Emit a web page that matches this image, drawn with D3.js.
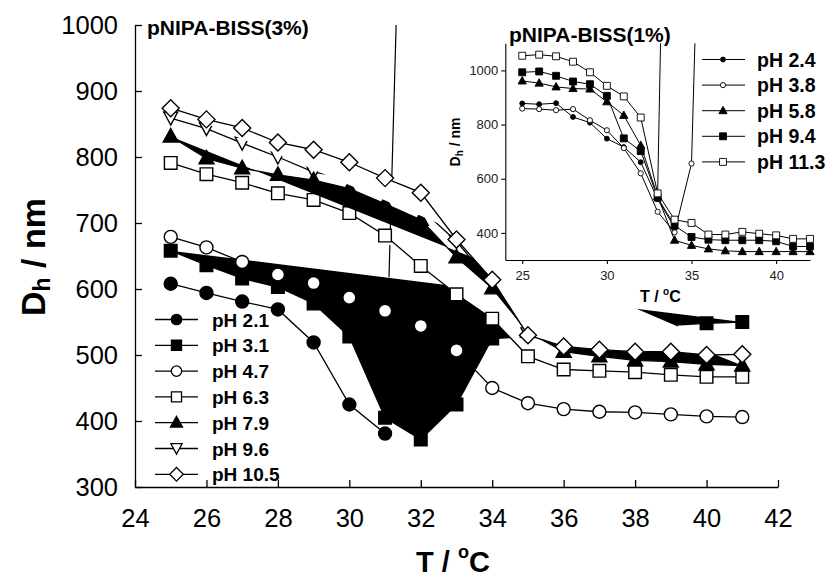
<!DOCTYPE html>
<html><head><meta charset="utf-8">
<script src="https://cdn.jsdelivr.net/npm/d3@7"></script>
<style>html,body{margin:0;padding:0;background:#fff;} svg{display:block;font-family:Arial,"Liberation Sans",sans-serif;}</style>
</head><body><svg id="c" width="832" height="579"></svg>
<script>
// ---------- main chart data: pNIPA-BISS(3%) ----------
const tempMain = [25,26,27,28,29,30,31,32,33,34,35,36,37,38,39,40,41];
const ph21  = [608,594,581,569,519,425,381];
const ph31  = [658,636,616,603,578,528,405,372,425,525,528,533,538,542,545,548,550];
const ph47  = [679,663,641,622,609,587,567,544,507,450,427,418,414,413,410,407,406];
const ph63  = [791,774,761,745,735,715,681,635,592,555,498,478,476,474,470,467,467];
const ph79  = [831,798,783,773,765,752,729,705,648,601,535,505,498,492,490,486,484];
const ph96  = [859,843,821,800,777,768,745,722,672,608,532,520,515,513,512,508];
const ph105 = [874,857,844,822,811,792,768,746,675,614,530,513,508,505,505,500,501];
const mainLabels = ["pH 2.1","pH 3.1","pH 4.7","pH 6.3","pH 7.9","pH 9.6","pH 10.5"];
const mainTicksX = [24,26,28,30,32,34,36,38,40,42];
const mainTicksY = [300,400,500,600,700,800,900,1000];
// stray line in the scanned figure
const strayMain = [[31.11,618],[31.31,1000]];

// ---------- inset data: pNIPA-BISS(1%) ----------
const tempInset = [25,26,27,28,29,30,31,32,33,34,35,36,37,38,39,40,41,42];
const ph24  = [878,875,879,828,807,748,717,661,525,420];
const ph38  = [859,857,853,857,816,779,713,620,478,402,656];
const ph58  = [961,953,939,933,931,884,834,723,535,373,354,341,334,331,331,331,331,331];
const ph94  = [993,996,980,959,949,906,749,702,530,427,385,375,373,373,373,369,350,350];
const ph113 = [1054,1058,1052,1032,993,943,904,826,546,449,437,394,394,404,397,391,378,378];
const insetLabels = ["pH 2.4","pH 3.8","pH 5.8","pH 9.4","pH 11.3"];
const insetTicksX = [25,30,35,40];
const insetTicksY = [400,600,800,1000];
const strayInset = [[[33.0,549],[33.17,1100]],[[35.0,656],[35.2,1100]]];

const mainSeries = [
  {label:mainLabels[0], values:ph21,  shape:"circle",  filled:true,  area:null},
  {label:mainLabels[1], values:ph31,  shape:"square",  filled:true,  area:"#000"},
  {label:mainLabels[2], values:ph47,  shape:"circle",  filled:false, area:null},
  {label:mainLabels[3], values:ph63,  shape:"square",  filled:false, area:"#fff"},
  {label:mainLabels[4], values:ph79,  shape:"triUp",   filled:true,  area:"#000"},
  {label:mainLabels[5], values:ph96,  shape:"triDown", filled:false, area:"#fff"},
  {label:mainLabels[6], values:ph105, shape:"diamond", filled:false, area:"#fff"}
];
const drawOrder = [0,1,2,3,5,4,6];
const insetSeries = [
  {label:insetLabels[0], values:ph24,  shape:"circle", filled:true,  k:0.38},
  {label:insetLabels[1], values:ph38,  shape:"circle", filled:false, k:0.4},
  {label:insetLabels[2], values:ph58,  shape:"triUp",  filled:true,  k:0.55},
  {label:insetLabels[3], values:ph94,  shape:"square", filled:true,  k:0.55},
  {label:insetLabels[4], values:ph113, shape:"square", filled:false, k:0.55}
];

function markerPath(shape,k){
  switch(shape){
    case "circle": {const r=6.5*k; return `M${-r},0A${r},${r} 0 1,0 ${r},0A${r},${r} 0 1,0 ${-r},0Z`;}
    case "square": {const h=6.3*k; return `M${-h},${-h}H${h}V${h}H${-h}Z`;}
    case "triUp": return `M0,${-8*k}L${7.5*k},${5.5*k}L${-7.5*k},${5.5*k}Z`;
    case "triDown": return `M0,${7*k}L${7*k},${-6*k}L${-7*k},${-6*k}Z`;
    case "diamond": return `M0,${-8.5*k}L${8.5*k},0L0,${8.5*k}L${-8.5*k},0Z`;
  }
}
function marker(g,shape,cx,cy,k,filled,sw){
  g.append("path").attr("d",markerPath(shape,k)).attr("transform",`translate(${cx},${cy})`)
   .attr("fill",filled?"#000":"#fff").attr("stroke","#000").attr("stroke-width",sw);
}

const svg = d3.select("#c");

// ================= MAIN =================
const x = d3.scaleLinear().domain([24,42]).range([135,778]);
const y = d3.scaleLinear().domain([300,1000]).range([487,25]);
const line = d3.line().x(d=>x(d[0])).y(d=>y(d[1]));

svg.append("path").attr("d",line(strayMain)).attr("fill","none").attr("stroke","#000").attr("stroke-width",1.2);

const gm = svg.append("g");
drawOrder.map(i=>mainSeries[i]).forEach(s=>{
  const pts = tempMain.map((t,i)=>[t,s.values[i]]).filter(p=>p[1]!=null);
  if(s.area) gm.append("path").attr("d",line(pts)+"Z").attr("fill",s.area).attr("stroke","none");
  gm.append("path").attr("d",line(pts)).attr("fill","none").attr("stroke","#000").attr("stroke-width",1.3);
  pts.forEach(p=>marker(gm,s.shape,x(p[0]),y(p[1]),1,s.filled,1.4));
});

// axes
const ax = svg.append("g").attr("transform","translate(0,487)")
  .call(d3.axisBottom(x).tickValues(mainTicksX).tickSize(-7).tickSizeOuter(0).tickPadding(22).tickFormat(d3.format("d")));
const ay = svg.append("g").attr("transform","translate(135,0)")
  .call(d3.axisLeft(y).tickValues(mainTicksY).tickSize(-7).tickSizeOuter(0).tickPadding(17).tickFormat(d3.format("d")));
[ax,ay].forEach(a=>{
  a.attr("font-family",null).attr("font-size",null);
  a.selectAll("path,line").attr("stroke","#000").attr("stroke-width",1.3);
  a.selectAll("text").attr("font-size","25.5px").attr("fill","#000").attr("font-family","Arial, 'Liberation Sans', sans-serif");
});

// axis titles
const xt = svg.append("text").attr("x",416).attr("y",572).attr("font-weight","bold").attr("font-size","29px");
xt.append("tspan").text("T / ");
xt.append("tspan").attr("font-size","18px").attr("dy",-14).text("o");
xt.append("tspan").attr("dy",14).text("C");
const yt = svg.append("text").attr("transform","translate(45,257) rotate(-90)").attr("text-anchor","middle")
  .attr("font-weight","bold").attr("font-size","34px");
yt.append("tspan").text("D");
yt.append("tspan").attr("font-size","23px").attr("dy",5).text("h");
yt.append("tspan").attr("dy",-5).text(" / nm");

svg.append("text").attr("x",147).attr("y",35).attr("font-weight","bold").attr("font-size","21px").text("pNIPA-BISS(3%)");

// legend
const legY0 = 319.5, legDy = 25.8;
mainSeries.forEach((s,i)=>{
  const yy = legY0 + i*legDy;
  svg.append("line").attr("x1",155).attr("x2",198).attr("y1",yy).attr("y2",yy).attr("stroke","#000").attr("stroke-width",1.3);
  marker(svg,s.shape,176.5,yy,0.8,s.filled,1.3);
  svg.append("text").attr("x",212).attr("y",yy+7).attr("font-weight","bold").attr("font-size","19px").text(s.label);
});

// ================= INSET =================
const xi = d3.scaleLinear().domain([24,42]).range([505.3,810]);
const yi = d3.scaleLinear().domain([300,1100]).range([260,43.3]);
const linei = d3.line().x(d=>xi(d[0])).y(d=>yi(d[1]));
const gi = svg.append("g");
strayInset.forEach(seg=>gi.append("path").attr("d",linei(seg)).attr("fill","none").attr("stroke","#000").attr("stroke-width",1));
insetSeries.forEach(s=>{
  const pts = tempInset.map((t,i)=>[t,s.values[i]]).filter(p=>p[1]!=null);
  gi.append("path").attr("d",linei(pts)).attr("fill","none").attr("stroke","#000").attr("stroke-width",1);
  pts.forEach(p=>marker(gi,s.shape,xi(p[0]),yi(p[1]),s.k,s.filled,0.9));
});
const axi = svg.append("g").attr("transform","translate(0,260)")
  .call(d3.axisBottom(xi).tickValues(insetTicksX).tickSize(4).tickSizeOuter(0).tickPadding(6.5).tickFormat(d3.format("d")));
const ayi = svg.append("g").attr("transform","translate(505.3,0)")
  .call(d3.axisLeft(yi).tickValues(insetTicksY).tickSize(4).tickSizeOuter(0).tickPadding(3).tickFormat(d3.format("d")));
[axi,ayi].forEach(a=>{
  a.attr("font-family",null).attr("font-size",null);
  a.selectAll("path,line").attr("stroke","#000").attr("stroke-width",1.1);
  a.selectAll("text").attr("font-size","13px").attr("fill","#222").attr("font-family","Arial, 'Liberation Sans', sans-serif");
});
const xti = svg.append("text").attr("x",640).attr("y",302).attr("font-weight","bold").attr("font-size","16px");
xti.append("tspan").text("T / ");
xti.append("tspan").attr("font-size","10px").attr("dy",-7).text("o");
xti.append("tspan").attr("dy",7).text("C");
const yti = svg.append("text").attr("transform","translate(460,142) rotate(-90)").attr("text-anchor","middle")
  .attr("font-weight","bold").attr("font-size","14px");
yti.append("tspan").text("D");
yti.append("tspan").attr("font-size","10px").attr("dy",3).text("h");
yti.append("tspan").attr("dy",-3).text(" / nm");
svg.append("text").attr("x",509).attr("y",42).attr("font-weight","bold").attr("font-size","21px").text("pNIPA-BISS(1%)");

const ilegY0 = 59.5, ilegDy = 25.6;
insetSeries.forEach((s,i)=>{
  const yy = ilegY0 + i*ilegDy;
  svg.append("line").attr("x1",702).attr("x2",745).attr("y1",yy).attr("y2",yy).attr("stroke","#000").attr("stroke-width",1);
  marker(svg,s.shape,723,yy,s.k,s.filled,0.9);
  svg.append("text").attr("x",757).attr("y",yy+7).attr("font-weight","bold").attr("font-size","19.5px").text(s.label);
});
</script></body></html>
